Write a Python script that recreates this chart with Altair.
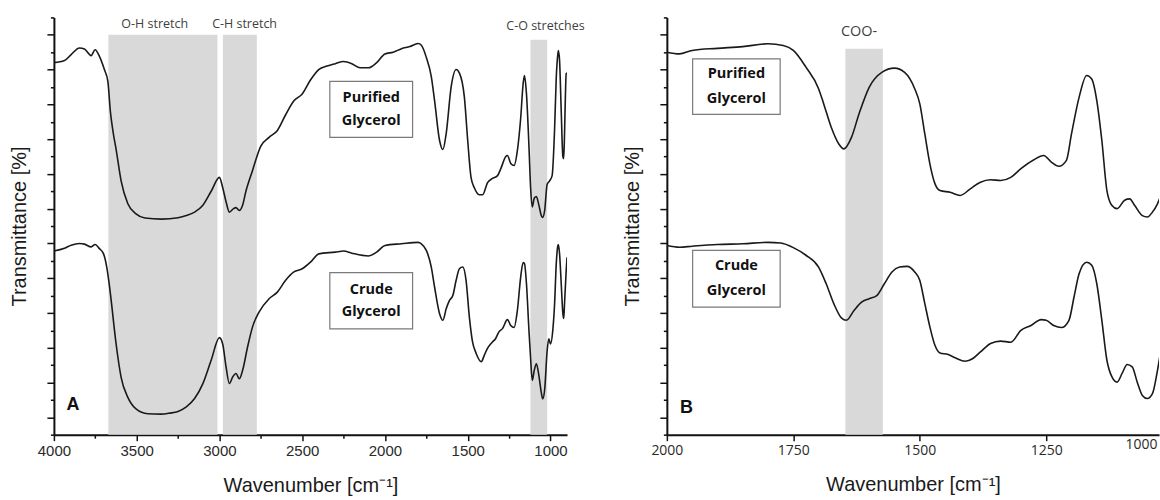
import altair as alt
import pandas as pd

# ---------------- data (wavenumber, transmittance in arbitrary units) ----------------
A_purified = [(4000, 102), (3936, 102.6), (3896, 104.3), (3846, 106.2), (3815, 105.9), (3775, 104),
              (3751, 105.7), (3725, 103.8), (3695, 100), (3674, 96.6), (3659, 88), (3644, 82.5),
              (3624, 77), (3594, 68), (3554, 61.5), (3504, 58.5), (3450, 57.3), (3350, 57),
              (3250, 57.4), (3200, 58), (3150, 59), (3100, 61), (3050, 65), (3000, 69), (2980, 66),
              (2960, 62), (2940, 59), (2915, 60), (2900, 60.3), (2880, 59.5), (2860, 61), (2840, 65),
              (2800, 71), (2750, 78), (2700, 80.5), (2650, 82.5), (2600, 87), (2550, 91), (2500, 93),
              (2450, 97), (2400, 100), (2350, 101), (2300, 101.7), (2250, 102.3), (2200, 101.7),
              (2150, 100.5), (2100, 100.5), (2050, 102), (2000, 104.5), (1950, 105), (1900, 106),
              (1850, 106.6), (1800, 107.5), (1780, 107), (1750, 103.5), (1720, 98), (1700, 91),
              (1670, 79.6), (1650, 77), (1630, 81.6), (1600, 95), (1570, 100), (1550, 99), (1520, 92),
              (1500, 79.6), (1480, 69), (1460, 66), (1430, 64), (1410, 64), (1380, 67.5), (1350, 68.7),
              (1320, 69.5), (1300, 71.5), (1270, 75), (1260, 75.3), (1240, 73), (1220, 72.4),
              (1200, 76.7), (1180, 86), (1165, 96), (1157, 98.3), (1145, 93), (1130, 78), (1120, 66),
              (1110, 60.5), (1098, 63), (1085, 63.5), (1070, 61), (1055, 58), (1047, 57.5),
              (1035, 59.5), (1020, 67), (1005, 68), (990, 69.5), (975, 83), (965, 97.7), (955, 104.6),
              (952, 105.5), (945, 102.6), (935, 88), (925, 75), (920, 74.4), (915, 81.6), (910, 92),
              (905, 98.8), (900, 99)]

A_crude = [(4000, 47.8), (3936, 48.6), (3896, 49.5), (3846, 50), (3815, 49.8), (3775, 49),
           (3751, 49.7), (3725, 48.5), (3700, 47), (3680, 43), (3665, 38), (3654, 33.6), (3624, 21),
           (3594, 11.5), (3554, 5.8), (3504, 2.4), (3433, 1.0), (3353, 0.9), (3300, 1.2), (3250, 1.7),
           (3200, 3.0), (3150, 5.4), (3100, 9.7), (3050, 16.4), (3000, 22.9), (2980, 21), (2960, 14.5),
           (2940, 9.7), (2920, 11.6), (2900, 12.6), (2880, 11.1), (2860, 13.5), (2830, 20.2),
           (2800, 26), (2760, 30.3), (2700, 34.1), (2650, 36), (2600, 39.4), (2550, 41.8),
           (2500, 42.7), (2450, 44.6), (2400, 47), (2300, 47.5), (2250, 47.8), (2200, 47.2),
           (2100, 46.4), (2050, 47.5), (2000, 49.4), (1900, 49.9), (1800, 50.3), (1780, 49.9),
           (1750, 48), (1720, 43.2), (1700, 37.4), (1670, 29.8), (1650, 27.9), (1630, 31.2),
           (1610, 33.6), (1590, 35), (1570, 39.4), (1550, 42.7), (1530, 43.2), (1510, 39.4),
           (1490, 28.8), (1472, 22), (1450, 18.5), (1418, 16), (1400, 17.8), (1382, 19.7),
           (1352, 21.6), (1332, 22.6), (1312, 24.5), (1290, 25.5), (1260, 28.1), (1240, 26.4),
           (1220, 25.8), (1200, 30.7), (1180, 40.3), (1165, 44.5), (1157, 44.2), (1145, 38.4),
           (1130, 25), (1120, 17), (1110, 10.6), (1098, 13.5), (1085, 15.4), (1070, 12), (1055, 7),
           (1047, 5.3), (1035, 8), (1020, 19.2), (1010, 22.6), (1000, 21.1), (986, 25), (975, 32.7),
           (965, 44.2), (955, 49.4), (952, 49.7), (945, 47), (935, 38.4), (925, 29.8), (920, 28.4),
           (915, 32.7), (905, 42.2), (900, 46)]

B_purified = [(2000, 105), (1975, 104.5), (1950, 105.5), (1900, 106.1), (1850, 106.6), (1800, 107.4),
              (1770, 106.9), (1750, 105.5), (1725, 100.7), (1700, 94.5), (1690, 90.2), (1675, 83.4),
              (1660, 78.6), (1650, 77.2), (1635, 80.5), (1620, 87.3), (1600, 94.9), (1575, 99.2),
              (1550, 100.4), (1530, 99.2), (1510, 94.5), (1500, 90.2), (1490, 81.5), (1480, 72.9),
              (1470, 67.2), (1460, 65.2), (1440, 64.7), (1420, 63.8), (1400, 65.7), (1380, 67.6),
              (1360, 68.3), (1340, 68.1), (1320, 69), (1300, 71.5), (1275, 74), (1255, 75.3),
              (1240, 73.4), (1225, 72.2), (1210, 73.9), (1200, 81.5), (1185, 92), (1170, 98.3),
              (1160, 97.3), (1150, 91.1), (1140, 79.6), (1130, 65.2), (1120, 60.9), (1110, 60),
              (1095, 62.4), (1085, 62.8), (1075, 60.9), (1060, 58), (1050, 57.6), (1040, 59),
              (1030, 61.4), (1020, 65), (1010, 68), (1000, 69)]

B_crude = [(2000, 49.4), (1975, 48.9), (1950, 49.2), (1900, 49.7), (1850, 49.9), (1800, 50.3),
           (1775, 50.1), (1750, 48.8), (1725, 46.6), (1700, 43.2), (1685, 38.4), (1670, 32.7),
           (1655, 28.6), (1645, 27.9), (1630, 30.7), (1615, 33.1), (1600, 34.1), (1585, 35),
           (1570, 38.4), (1555, 41.8), (1540, 43.2), (1525, 43.4), (1510, 41.8), (1500, 39.4),
           (1490, 32.7), (1480, 26), (1470, 20.7), (1460, 18.5), (1445, 18.1), (1430, 17.1),
           (1410, 16.1), (1395, 16.9), (1380, 18.8), (1360, 21.2), (1340, 21.9), (1320, 21.6),
           (1300, 25), (1280, 26.4), (1260, 28.1), (1250, 27.9), (1235, 26.4), (1220, 25.8),
           (1205, 27.9), (1195, 34.6), (1185, 41.3), (1170, 44.6), (1160, 43.7), (1150, 38.4),
           (1140, 27.9), (1130, 16.4), (1120, 11.6), (1110, 10.1), (1100, 12.6), (1090, 15.2),
           (1080, 14.5), (1070, 10.1), (1060, 6.3), (1050, 5.4), (1040, 6.8), (1030, 13.5),
           (1020, 22), (1010, 27), (1000, 29)]

# shaded bands: (start, end, top)
A_bands = [(3671, 3012, 110), (2979, 2774, 110), (1121, 1020, 108.6)]
B_bands = [(1647, 1573, 106)]
# band labels: (text, wavenumber, level)
A_band_labels = [("O-H stretch", 3391, 113), ("C-H stretch", 2848, 113), ("C-O stretches", 1030, 112.6)]
B_band_labels = [("COO-", 1620, 110.8)]
# sample label boxes: (line1, line2, x1, x2, y_top, y_bottom, y_line1, y_line2)
A_boxes = [("Purified", "Glycerol", 2333, 1833, 96.6, 80.5, 91.8, 85.2),
           ("Crude", "Glycerol", 2333, 1833, 41.6, 25.4, 36.7, 30.2)]
B_boxes = [("Purified", "Glycerol", 1949, 1776, 103.1, 87.1, 98.6, 91.6),
           ("Crude", "Glycerol", 1949, 1776, 48.0, 31.7, 43.4, 36.4)]
A_letter = ("A", 3885, 3.6)
B_letter = ("B", 1961, 2.7)

# axes
Y_DOMAIN = [-5, 115]
Y_TICKS = list(range(-5, 120, 5))
A_XDOMAIN = [900, 4000]
A_XTICKS = list(range(1000, 4001, 250))
B_XDOMAIN = [1027, 2000]          # panel B is cut at the right edge of the figure
B_XTICKS = [1027, 1250, 1500, 1750, 2000]   # last label ("1000") sits at the cut edge
B_EDGE_LABEL = "1000"


def spectra_df(pur, crude):
    rows = [{"w": w, "t": t, "s": "Purified", "i": i} for i, (w, t) in enumerate(pur)]
    rows += [{"w": w, "t": t, "s": "Crude", "i": i} for i, (w, t) in enumerate(crude)]
    return pd.DataFrame(rows)


def panel(pur, crude, bands, band_labels, boxes, letter, xdomain, width, xaxis, xtitle_size,
          lab_font, lab_size, band_font_size):
    xs = alt.Scale(domain=xdomain, reverse=True, nice=False, zero=False)
    ys = alt.Scale(domain=Y_DOMAIN, nice=False, zero=False)
    yaxis = alt.Axis(values=Y_TICKS, labels=False, grid=False, title="Transmittance [%]",
                     titleFont="Liberation Sans", titleFontSize=20, titleFontWeight="normal",
                     titleColor="#1a1a1a", titlePadding=17,
                     tickSize={"condition": {"test": "datum.value % 10 != 0", "value": 3.5}, "value": 7},
                     tickColor="#111", tickWidth=1.5, domainColor="#111", domainWidth=2)
    xaxis_full = alt.Axis(grid=False, title="Wavenumber [cm⁻¹]", titleFont="Liberation Sans",
                          titleFontSize=xtitle_size, titleFontWeight="normal", titleColor="#1a1a1a",
                          titlePadding=17, labelFont=lab_font, labelFontSize=lab_size,
                          labelColor="#2a2a2a", labelPadding=3, labelFlush=False,
                          tickColor="#111", tickWidth=1.5,
                          domainColor="#111", domainWidth=2, format="d", **xaxis)
    X = alt.X("w:Q", scale=xs, axis=xaxis_full)
    Y = alt.Y("t:Q", scale=ys, axis=yaxis)

    bdf = pd.DataFrame([{"w": a, "w2": b, "t": top, "t2": Y_DOMAIN[0]} for a, b, top in bands])
    band_layer = alt.Chart(bdf).mark_rect(color="#d9d9d9").encode(x=X, x2="w2:Q", y=Y, y2="t2:Q")

    lines = alt.Chart(spectra_df(pur, crude)).mark_line(
        color="#1a1a1a", strokeWidth=1.6, clip=True, interpolate="monotone").encode(
        x=X, y=Y, detail="s:N", order=alt.Order("i:Q"))

    ldf = pd.DataFrame([{"txt": s, "w": w, "t": t} for s, w, t in band_labels])
    band_text = alt.Chart(ldf).mark_text(font="Open Sans", fontSize=band_font_size, color="#404040",
                                         baseline="middle", align="center").encode(
        x=X, y=Y, text="txt:N")

    boxdf = pd.DataFrame([{"w": x1, "w2": x2, "t": yt, "t2": yb} for _, _, x1, x2, yt, yb, _, _ in boxes])
    box_layer = alt.Chart(boxdf).mark_rect(fill="white", stroke="#7a7a7a", strokeWidth=1.2).encode(
        x=X, x2="w2:Q", y=Y, y2="t2:Q")

    trows = []
    for l1, l2, x1, x2, _, _, y1, y2 in boxes:
        cx = (x1 + x2) / 2
        trows.append({"txt": l1, "w": cx, "t": y1})
        trows.append({"txt": l2, "w": cx, "t": y2})
    box_text = alt.Chart(pd.DataFrame(trows)).mark_text(
        font="Open Sans", fontSize=14.5, fontWeight="bold", color="#111",
        baseline="middle", align="center").encode(x=X, y=Y, text="txt:N")

    letdf = pd.DataFrame([{"txt": letter[0], "w": letter[1], "t": letter[2]}])
    let_layer = alt.Chart(letdf).mark_text(font="Liberation Sans", fontSize=18, fontWeight="bold",
                                           color="#111", baseline="middle", align="center").encode(
        x=X, y=Y, text="txt:N")

    return alt.layer(band_layer, lines, band_text, box_layer, box_text, let_layer).properties(
        width=width, height=418)


A_axis = dict(values=A_XTICKS,
              labelExpr="datum.value % 500 == 0 ? datum.label : ''",
              tickSize={"condition": {"test": "datum.value % 500 != 0", "value": 3.5}, "value": 6})
B_axis = dict(values=B_XTICKS,
              labelExpr=f"datum.value == {B_XDOMAIN[0]} ? '{B_EDGE_LABEL}' : datum.label",
              tickSize={"condition": {"test": f"datum.value == {B_XDOMAIN[0]}", "value": 0}, "value": 6},
              labelOffset={"condition": {"test": f"datum.value == {B_XDOMAIN[0]}", "value": -18}, "value": 0})

panel_a = panel(A_purified, A_crude, A_bands, A_band_labels, A_boxes, A_letter,
                A_XDOMAIN, 514, A_axis, 20, "Liberation Sans", 15, 12.5)
panel_b = panel(B_purified, B_crude, B_bands, B_band_labels, B_boxes, B_letter,
                B_XDOMAIN, 493, B_axis, 20, "Open Sans", 14, 14.5)

chart = alt.hconcat(panel_a, panel_b, spacing=100, bounds="flush").properties(
    padding={"left": 9, "top": 16, "right": 0, "bottom": 0}
).configure_view(stroke=None)

chart.save("out.html", embed_options={"renderer": "svg", "actions": False})
